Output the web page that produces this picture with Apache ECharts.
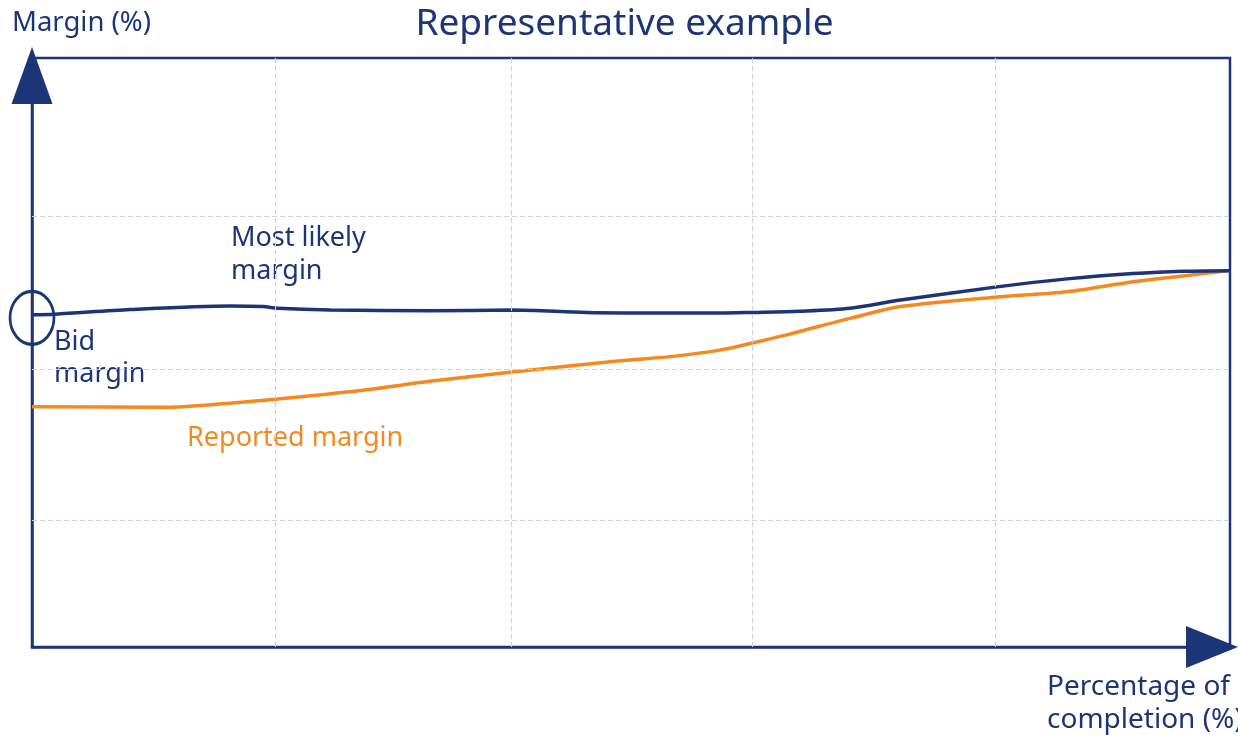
<!DOCTYPE html>
<html>
<head>
<meta charset="utf-8">
<script src="https://cdn.jsdelivr.net/npm/echarts@6/dist/echarts.min.js"></script>
<style>
  html, body { margin: 0; padding: 0; background: #ffffff; }
  #chart { width: 1238px; height: 735px; }
</style>
</head>
<body>
<div id="chart"></div>
<script>
// Percentage of completion (x) for each sampled point
const completionMostLikely = [0, 1.9, 8.2, 16.5, 19.3, 20.5, 24.9, 33.2, 40.1, 46.3, 53.3, 57.4, 60.1, 64.1, 68.3, 72.5, 80.4, 86.4, 91.9, 96.1, 100];
// Most likely margin (relative scale 0–100)
const marginMostLikely = [56.4, 56.5, 57.3, 57.9, 57.8, 57.5, 57.2, 57.1, 57.2, 56.8, 56.7, 56.7, 56.8, 57.0, 57.5, 58.9, 61.1, 62.5, 63.4, 63.8, 63.9];

const completionReported = [0, 11.0, 16.5, 20.5, 27.6, 33.2, 40.1, 49.1, 53.3, 57.4, 60.1, 63.0, 65.8, 68.3, 72.5, 80.4, 86.4, 91.9, 96.1, 100];
// Reported margin (relative scale 0–100)
const marginReported = [40.8, 40.7, 41.4, 42.1, 43.6, 45.1, 46.7, 48.6, 49.3, 50.4, 51.6, 53.0, 54.5, 55.8, 57.8, 59.4, 60.3, 62.0, 63.0, 63.9];

// Dashed reference grid positions
const gridX = [20.3, 40.0, 60.1, 80.4];
const gridY = [21.6, 47.2, 73.2];

const NAVY = '#1b3577';
const ORANGE = '#f5891f';
const GRID = '#cfd1e2';
const FONT = '"Noto Sans", "Open Sans", sans-serif';

const pairs = (xs, ys) => xs.map((x, i) => [x, ys[i]]);

const chart = echarts.init(document.getElementById('chart'), null, { renderer: 'canvas' });

chart.setOption({
  animation: false,
  backgroundColor: '#ffffff',
  grid: {
    left: 32, right: 8, top: 58, bottom: 88,
    show: true, borderColor: NAVY, borderWidth: 2.5, backgroundColor: 'transparent'
  },
  xAxis: {
    type: 'value', min: 0, max: 100,
    axisLine: {
      show: true, onZero: false,
      lineStyle: { color: NAVY, width: 2.5 },
      symbol: ['none', 'triangle'], symbolSize: [42, 52], symbolOffset: [0, -18]
    },
    axisTick: { show: false }, axisLabel: { show: false }, splitLine: { show: false }
  },
  yAxis: {
    type: 'value', min: 0, max: 100,
    axisLine: {
      show: true, onZero: false,
      lineStyle: { color: NAVY, width: 2.5 },
      symbol: ['none', 'triangle'], symbolSize: [41, 57], symbolOffset: [0, -17.5]
    },
    axisTick: { show: false }, axisLabel: { show: false }, splitLine: { show: false }
  },
  series: [
    {
      // dashed grid
      type: 'line', data: [], z: 1, silent: true,
      markLine: {
        silent: true, symbol: ['none', 'none'], label: { show: false },
        lineStyle: { color: GRID, width: 1, type: [5, 3] },
        emphasis: { disabled: true },
        data: gridX.map(v => ({ xAxis: v })).concat(gridY.map(v => ({ yAxis: v })))
      }
    },
    {
      name: 'Reported margin', type: 'line', z: 3,
      data: pairs(completionReported, marginReported),
      smooth: 0.3, showSymbol: false,
      lineStyle: { color: ORANGE, width: 3.5 }
    },
    {
      name: 'Most likely margin', type: 'line', z: 4,
      data: pairs(completionMostLikely, marginMostLikely),
      smooth: 0.3, showSymbol: false,
      lineStyle: { color: NAVY, width: 3.5 },
      markPoint: {
        silent: true, symbol: 'circle', symbolSize: [44, 53], symbolOffset: [0, 3],
        itemStyle: { color: 'rgba(0,0,0,0)', borderColor: NAVY, borderWidth: 3 },
        label: { show: false },
        data: [{ coord: [completionMostLikely[0], marginMostLikely[0]] }]
      }
    }
  ],
  graphic: [
    { type: 'text', x: 624.5, y: 24, style: { text: 'Representative example', font: '37px ' + FONT, fill: NAVY, align: 'center', verticalAlign: 'middle' } },
    { type: 'text', x: 12, y: 23, style: { text: 'Margin (%)', font: '27.5px ' + FONT, fill: NAVY, verticalAlign: 'middle' } },
    { type: 'text', x: 231, y: 222, style: { text: 'Most likely\nmargin', font: '27px ' + FONT, fill: NAVY, lineHeight: 33, verticalAlign: 'top' } },
    { type: 'text', x: 54, y: 326, style: { text: 'Bid\nmargin', font: '27px ' + FONT, fill: NAVY, lineHeight: 32, verticalAlign: 'top' } },
    { type: 'text', x: 187, y: 438, style: { text: 'Reported margin', font: '27px ' + FONT, fill: ORANGE, verticalAlign: 'middle' } },
    { type: 'text', x: 1047, y: 671, style: { text: 'Percentage of\ncompletion (%)', font: '28px ' + FONT, fill: NAVY, lineHeight: 32.5, verticalAlign: 'top' } }
  ]
});
</script>
</body>
</html>
